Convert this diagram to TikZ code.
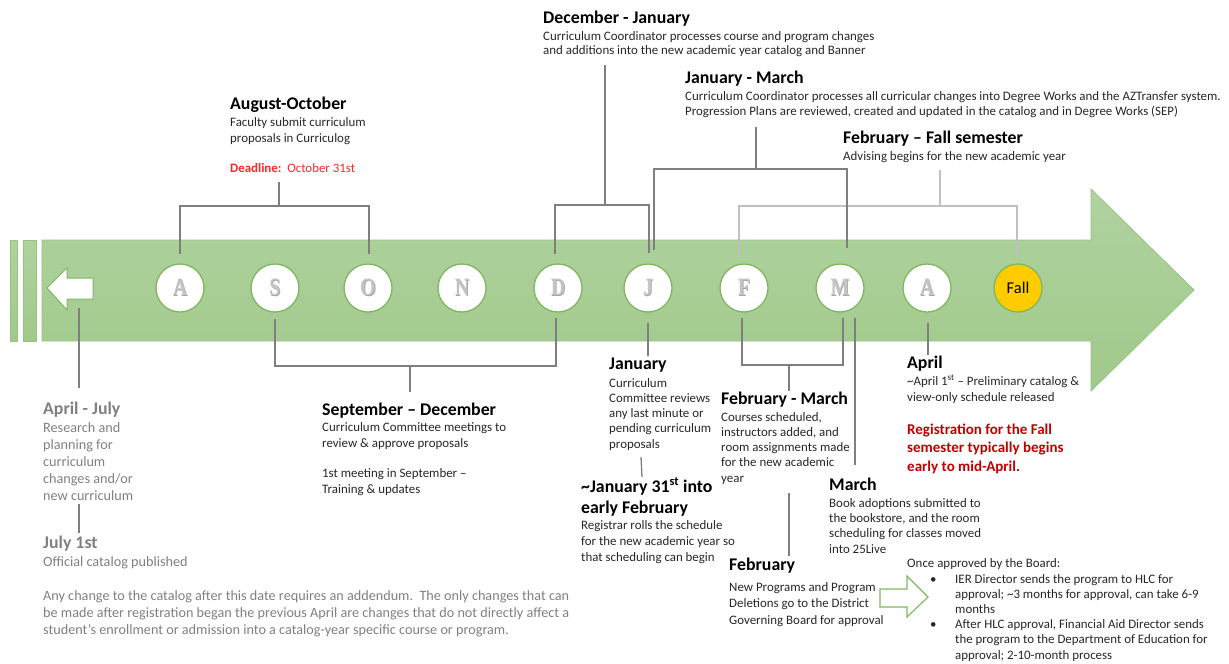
\documentclass[tikz,border=0pt]{standalone}
\usepackage{fontspec}
\setmainfont{Carlito}
\newfontfamily\letterfont{Liberation Serif}
\usepackage{graphicx}
\usetikzlibrary{calc}

\definecolor{bandtop}{HTML}{B0D2A0}
\definecolor{bandbot}{HTML}{A0C98A}
\definecolor{bandedge}{HTML}{96C47F}
\definecolor{ringgreen}{HTML}{7DB85E}
\definecolor{lettergray}{HTML}{C4C4C4}
\definecolor{lettershadow}{HTML}{A6A6A6}
\definecolor{linegray}{HTML}{7F7F7F}
\definecolor{lightline}{HTML}{C0C0C0}
\definecolor{bodytext}{HTML}{262626}
\definecolor{graytext}{HTML}{808080}
\definecolor{deadred}{HTML}{FF2626}
\definecolor{regred}{HTML}{C00000}
\definecolor{fallyellow}{HTML}{FFCC00}

\newcommand\txtblock[6]{%
  \foreach \blockline [count=\k from 0] in {#6} {\node[#5] (#1\k) at (#2, #3+\k*#4) {\blockline};}}
\newcommand\mletter[1]{\scalebox{0.8}[1]{\rlap{\kern1pt\raisebox{-0.8pt}{\color{lettershadow}#1}}#1}}

\begin{document}
\begin{tikzpicture}[x=1pt,y=-1pt,
  head/.style={anchor=base west, inner sep=0, font=\fontsize{17.8}{20}\selectfont\bfseries, text=black},
  body/.style={anchor=base west, inner sep=0, font=\fontsize{12.9}{15}\selectfont, text=bodytext},
  topbody/.style={body, font=\fontsize{12.9}{15}\selectfont},
  grayhead/.style={head, text=graytext},
  graybody/.style={body, font=\fontsize{14.2}{17}\selectfont, text=graytext},
  month/.style={circle, draw=ringgreen, line width=1.3pt, fill=white, minimum size=48pt, inner sep=0,
    font=\letterfont\bfseries\fontsize{25}{25}\selectfont, text=lettergray},
  bracket/.style={draw=linegray, line width=2.4pt},
  thinlink/.style={draw=linegray, line width=1.6pt},
  lightbracket/.style={draw=lightline, line width=2.4pt},
]
\useasboundingbox (0,0) rectangle (1229,664);

% ---- green band with arrow head
\shade[top color=bandtop, bottom color=bandbot, draw=bandedge, line width=0.8pt]
  (42,240) -- (1091,240) -- (1091,189) -- (1194,290) -- (1091,391) -- (1091,341) -- (42,341) -- cycle;
\shade[top color=bandtop, bottom color=bandbot, draw=bandedge, line width=0.8pt] (10,240) rectangle (17,341);
\shade[top color=bandtop, bottom color=bandbot, draw=bandedge, line width=0.8pt] (23,240) rectangle (36,341);

% ---- white back arrow
\draw[fill=white, draw=ringgreen, line width=1pt]
  (47,288) -- (67,268) -- (67,278) -- (93,278) -- (93,299) -- (67,299) -- (67,310) -- cycle;
\coordinate (backarrow) at (79,308);

% ---- month circles
\node[month] (cA) at (180,288) {\mletter{A}};
\node[month] (cS) at (275,288) {\mletter{S}};
\node[month] (cO) at (368,288) {\mletter{O}};
\node[month] (cN) at (462,288) {\mletter{N}};
\node[month] (cD) at (558,288) {\mletter{D}};
\node[month] (cJ) at (648,288) {\mletter{J}};
\node[month] (cF) at (744,288) {\mletter{F}};
\node[month] (cM) at (840,288) {\mletter{M}};
\node[month] (cA2) at (927,288) {\mletter{A}};
\node[circle, draw=ringgreen, line width=1.3pt, fill=fallyellow, minimum size=48pt, inner sep=0,
  font=\fontsize{16.5}{16}\selectfont, text=black] (cFall) at (1018,288) {Fall};

% ---- top brackets
\draw[lightbracket] (940,170) -- (940,206);
\draw[lightbracket] (739,257) -- (739,206) -- (1017,206) -- (1017,256);
\draw[bracket] (279,182) -- (279,206);
\draw[bracket] (180,254) -- (180,206) -- (369,206) -- (369,254);
\draw[bracket] (605,65) -- (605,205);
\draw[bracket] (555,254) -- (555,205) -- (649,205) -- (649,253);
\draw[bracket] (756,127) -- (756,169);
\draw[bracket] (654,250) -- (654,169) -- (847,169) -- (847,248);

% ---- bottom connectors
\draw[thinlink, line width=2pt] (backarrow) -- (79,388);
\draw[thinlink, line width=2pt] (79,504) -- (79,533);
\draw[bracket] (275,319) -- (275,366) -- (556,366) -- (556,318);
\draw[bracket] (410,366) -- (410,392);
\draw[thinlink, line width=2pt] (648,323) -- (648,356);
\draw[thinlink, line width=1.3pt] (641,457) -- (642,477);
\draw[bracket] (742,318) -- (742,365) -- (843,365) -- (843,318);
\draw[bracket] (789,365) -- (789,391);
\draw[thinlink, line width=1.4pt] (855,318) -- (855,465);
\draw[thinlink, line width=1.4pt] (789,493) -- (789,556);
\draw[thinlink, line width=2pt] (928,323) -- (928,355);

% ---- hollow green arrow
\draw[fill=white, draw=ringgreen, line width=1.1pt]
  (880,589) -- (907,589) -- (907,576) -- (928,597) -- (907,617) -- (907,607) -- (880,607) -- cycle;

% ---- texts: top
\node[head] (dj) at (543,23) {December - January};
\txtblock{djb}{543}{40}{14.5}{topbody}{{Curriculum Coordinator processes course and program changes},{and additions into the new academic year catalog and Banner}}
\node[head] (jm) at (685,83) {January - March};
\txtblock{jmb}{685}{100}{15}{topbody}{{Curriculum Coordinator processes all curricular changes into Degree Works and the AZTransfer system.},{Progression Plans are reviewed, created and updated in the catalog and in Degree Works (SEP)}}
\node[head] (ff) at (843,143) {February -- Fall semester};
\txtblock{ffb}{843}{160}{15}{topbody}{{Advising begins for the new academic year}}
\node[head] (ao) at (230,109) {August-October};
\txtblock{aob}{230}{126}{16}{topbody}{{Faculty submit curriculum},{proposals in Curriculog}}
\node[topbody, text=deadred] (dead) at (230,172) {\textbf{Deadline:}\ \ October 31st};

% ---- texts: left
\node[grayhead] (aj) at (43,414) {April - July};
\txtblock{ajb}{43}{432}{17}{graybody}{{Research and},{planning for},{curriculum},{changes and/or},{new curriculum}}
\node[grayhead] (jul) at (43,548) {July 1st};
\txtblock{julb}{43}{566}{17}{graybody}{{Official catalog published}}
\txtblock{para}{43}{600}{17}{graybody}{{Any change to the catalog after this date requires an addendum.\ \ The only changes that can},{be made after registration began the previous April are changes that do not directly affect a},{student’s enrollment or admission into a catalog-year specific course or program.}}

% ---- texts: bottom middle
\node[head] (sd) at (322,415) {September -- December};
\txtblock{sdb}{322}{431}{16}{body}{{Curriculum Committee meetings to},{review \& approve proposals}}
\txtblock{sdc}{322}{477}{16}{body}{{1st meeting in September --},{Training \& updates}}
\node[head] (jan) at (609,369) {January};
\txtblock{janb}{609}{387}{15.3}{body}{{Curriculum},{Committee reviews},{any last minute or},{pending curriculum},{proposals}}
\node[head] (j31) at (581,492) {\textasciitilde January 31\textsuperscript{st} into};
\node[head] (j31b) at (581,513) {early February};
\txtblock{j31c}{581}{529}{16}{body}{{Registrar rolls the schedule},{for the new academic year so},{that scheduling can begin}}
\node[head] (fm) at (721,404) {February - March};
\txtblock{fmb}{721}{421}{15.3}{body}{{Courses scheduled,},{instructors added, and},{room assignments made},{for the new academic},{year}}
\node[head] (mar) at (829,490) {March};
\txtblock{marb}{829}{507}{15.4}{body}{{Book adoptions submitted to},{the bookstore, and the room},{scheduling for classes moved},{into 25Live}}
\node[head] (feb) at (729,570) {February};
\txtblock{febb}{729}{591}{16.5}{body}{{New Programs and Program},{Deletions go to the District},{Governing Board for approval}}

% ---- texts: right
\node[head] (apr) at (907,368) {April};
\txtblock{aprb}{907}{385}{16}{body}{{\textasciitilde April 1\textsuperscript{st} -- Preliminary catalog \&},{view-only schedule released}}
\txtblock{reg}{907}{434}{18.5}{body, font=\fontsize{15}{17}\selectfont\bfseries, text=regred}{{Registration for the Fall},{semester typically begins},{early to mid-April.}}
\node[body] (once) at (907,567) {Once approved by the Board:};
\node[body] (bul1) at (930,583) {•};
\node[body] (bul2) at (930,628) {•};
\txtblock{lst}{955}{583}{15.2}{body}{{IER Director sends the program to HLC for},{approval; \textasciitilde 3 months for approval, can take 6-9},{months},{After HLC approval, Financial Aid Director sends},{the program to the Department of Education for},{approval; 2-10-month process}}
\end{tikzpicture}
\end{document}
